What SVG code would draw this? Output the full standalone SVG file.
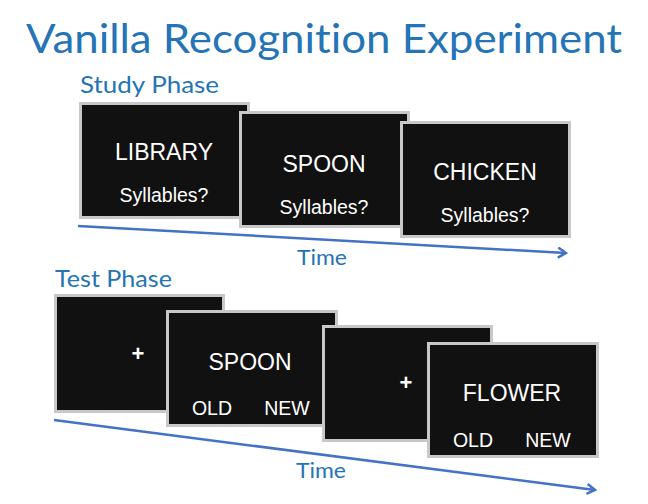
<svg xmlns="http://www.w3.org/2000/svg" width="648" height="504" viewBox="0 0 648 504">
<style>
.hd{font-family:"Lato","Liberation Sans",sans-serif;fill:#2574B5;font-variant-ligatures:none}
.scr{fill:#111111;stroke:#C8C8C8;stroke-width:3}
.w{font-family:"Liberation Sans",Arial,sans-serif;fill:#FFFFFF;text-anchor:middle}
.big{font-size:23px}
.sm{font-size:19.5px}
.opt{font-size:19.5px}
.plus{font-size:22px;font-weight:bold}
.arr{stroke:#4472C4;stroke-width:2.5;fill:none}
</style>
<defs>
<marker id="ah" markerWidth="12" markerHeight="12" refX="10" refY="6" orient="auto" markerUnits="userSpaceOnUse">
<path d="M2,1 L10,6 L2,11" fill="none" stroke="#4472C4" stroke-width="2.5"/>
</marker>
</defs>
<text class="hd" x="26" y="53" font-size="40" textLength="596" lengthAdjust="spacingAndGlyphs">Vanilla Recognition Experiment</text>
<text class="hd" x="80" y="93" font-size="24" textLength="139" lengthAdjust="spacingAndGlyphs">Study Phase</text>
<text class="hd" x="55" y="287" font-size="24" textLength="117" lengthAdjust="spacingAndGlyphs">Test Phase</text>

<g id="study1"><rect class="scr" x="80.5" y="103.5" width="168" height="114"/>
<text class="w big" x="164" y="160">LIBRARY</text><text class="w sm" x="164" y="202">Syllables?</text></g>
<g id="study2"><rect class="scr" x="240.5" y="112.5" width="168" height="114"/>
<text class="w big" x="324" y="172">SPOON</text><text class="w sm" x="324" y="214">Syllables?</text></g>
<g id="study3"><rect class="scr" x="401.5" y="122.5" width="168" height="114"/>
<text class="w big" x="485" y="180">CHICKEN</text><text class="w sm" x="485" y="222">Syllables?</text></g>

<g id="test1"><rect class="scr" x="55.5" y="295.5" width="168" height="116"/>
<text class="w plus" x="138" y="361">+</text></g>
<g id="test2"><rect class="scr" x="167.5" y="311.5" width="169" height="114"/>
<text class="w big" x="250" y="370">SPOON</text><text class="w opt" x="212" y="415">OLD</text><text class="w opt" x="287" y="415">NEW</text></g>
<g id="test3"><rect class="scr" x="323.5" y="326.5" width="168" height="114"/>
<text class="w plus" x="406" y="390">+</text></g>
<g id="test4"><rect class="scr" x="428.5" y="343.5" width="169" height="113"/>
<text class="w big" x="512" y="401">FLOWER</text><text class="w opt" x="473" y="447">OLD</text><text class="w opt" x="548" y="447">NEW</text></g>

<g id="connectors">
<line class="arr" x1="78" y1="226" x2="566" y2="253" marker-end="url(#ah)"/>
<line class="arr" x1="54" y1="420" x2="595" y2="490" marker-end="url(#ah)"/>
</g>
<text class="hd" x="297" y="265" font-size="22" textLength="50" lengthAdjust="spacingAndGlyphs">Time</text>
<text class="hd" x="296" y="478" font-size="22" textLength="50" lengthAdjust="spacingAndGlyphs">Time</text>
</svg>
